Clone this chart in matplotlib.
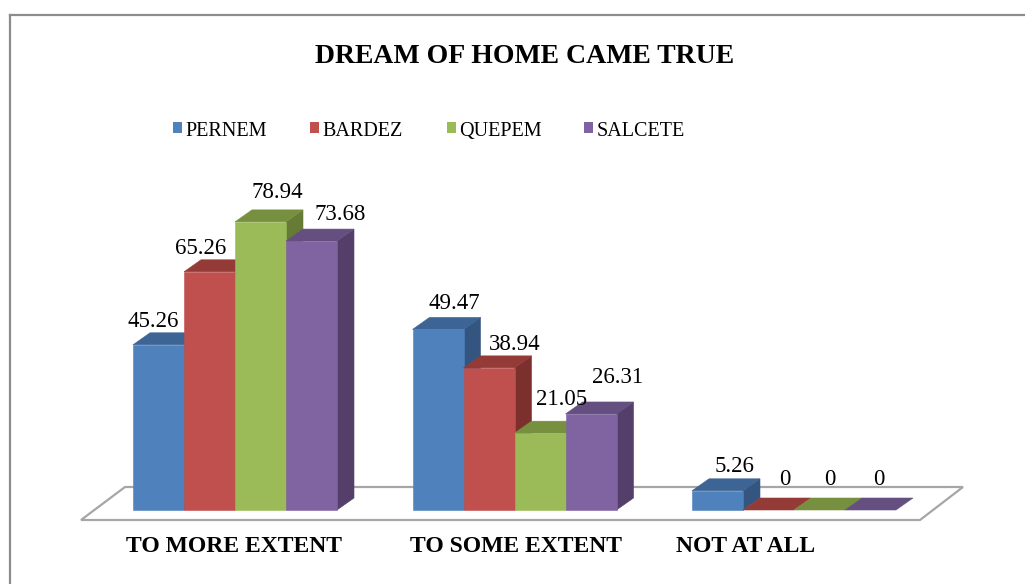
import matplotlib
matplotlib.use("Agg")
import matplotlib.pyplot as plt
from matplotlib.patches import Polygon, Rectangle
from matplotlib.lines import Line2D

# ---------------- data ----------------
categories = ["TO MORE EXTENT", "TO SOME EXTENT", "NOT AT ALL"]
series = ["PERNEM", "BARDEZ", "QUEPEM", "SALCETE"]
pernem = [45.26, 49.47, 5.26]
bardez = [65.26, 38.94, 0]
quepem = [78.94, 21.05, 0]
salcete = [73.68, 26.31, 0]
values = [pernem, bardez, quepem, salcete]
title = "DREAM OF HOME CAME TRUE"

# ---------------- style ----------------
front_c = ["#4F81BD", "#C0504D", "#9BBB59", "#8064A2"]
top_c = ["#3C6494", "#943B38", "#77903F", "#654F80"]
side_c = ["#335580", "#7B302E", "#667C36", "#533F69"]
FONT = "Liberation Serif"

# label nudges (pixels, +x right, +y down) per series / group
label_dx = [[-13.5, 8, 8.5], [-17, 17, 8], [8.5, 13, 2], [20, 18.5, 0]]
label_dy = [[0.5, -2.4, 0], [1, 0.6, -6.5], [-5, -9.7, -6.5], [-2.6, -12.2, -6.5]]
cat_dx = [-1.5, 2, -48.5]

W, H, DPI = 1025, 584, 100
PX0, PXU = 133.0, 51.0      # pixel of x=0, pixels per bar width
PY0, PYU = 510.0, 3.65      # pixel of value 0, pixels per value unit
GAP = 279.5 / PXU           # group spacing in bar widths
DX, DY = 17.0 / PXU, 12.0 / PYU  # 3-D depth offset

fig = plt.figure(figsize=(W / DPI, H / DPI), dpi=DPI)
ax = fig.add_axes([0, 0, 1, 1])
ax.set_xlim(-PX0 / PXU, (W - PX0) / PXU)
ax.set_ylim(-(H - PY0) / PYU, PY0 / PYU)
ax.axis("off")


def p2d(px, py):
    return ((px - PX0) / PXU, (PY0 - py) / PYU)


# chart border
fig.add_artist(Line2D([10 / W, 10 / W], [0, 1 - 15 / H], transform=fig.transFigure,
                      color="#8C8C8C", lw=1.6))
fig.add_artist(Line2D([10 / W, 1], [1 - 15 / H, 1 - 15 / H], transform=fig.transFigure,
                      color="#8C8C8C", lw=1.6))

# floor
floor = [p2d(81, 520), p2d(920, 520), p2d(963, 487), p2d(125, 487)]
ax.add_patch(Polygon(floor, closed=True, facecolor="white", edgecolor="#A6A6A6",
                     lw=1.6, zorder=1))

# bars
for g in range(len(categories)):
    for s in range(len(series)):
        v = values[s][g]
        x0 = g * GAP + s
        z = 2 + s
        if v > 0:
            ax.add_patch(Polygon([(x0 + 1, 0), (x0 + 1 + DX, DY), (x0 + 1 + DX, v + DY), (x0 + 1, v)],
                                 closed=True, facecolor=side_c[s], edgecolor=side_c[s], lw=0.4, zorder=z))
        ax.add_patch(Polygon([(x0, v), (x0 + 1, v), (x0 + 1 + DX, v + DY), (x0 + DX, v + DY)],
                             closed=True, facecolor=top_c[s], edgecolor=top_c[s], lw=0.4, zorder=z))
        if v > 0:
            ax.add_patch(Rectangle((x0, 0), 1, v, facecolor=front_c[s], edgecolor=front_c[s],
                                   lw=0.4, zorder=z))
        ax.annotate(f"{v:g}", xy=(x0 + 0.5 + DX / 2, v + DY),
                    xytext=(label_dx[s][g], 6.5 - label_dy[s][g]), textcoords="offset pixels",
                    ha="center", va="baseline", fontsize=16.5, family=FONT, color="black",
                    zorder=10)

# category labels
for g, cat in enumerate(categories):
    ax.annotate(cat, xy=(g * GAP + len(series) / 2, 0), xytext=(cat_dx[g], -42),
                textcoords="offset pixels", ha="center", va="baseline",
                fontsize=17, fontweight="bold", family=FONT)

# title
fig.text(524.5 / W, 1 - 63 / H, title, ha="center", va="baseline",
         fontsize=20, fontweight="bold", family=FONT)

# legend
leg_x0, leg_step, leg_base = 172.5, 137.3, 136.0
for s, name in enumerate(series):
    lx = leg_x0 + s * leg_step
    fig.add_artist(Rectangle((lx / W, 1 - 133.5 / H), 9 / W, 11.5 / H, transform=fig.transFigure,
                             facecolor=front_c[s], edgecolor="none"))
    fig.text((lx + 12.5) / W, 1 - leg_base / H, name, ha="left", va="baseline",
             fontsize=14.5, family=FONT)

fig.savefig("out.png", dpi=DPI)
